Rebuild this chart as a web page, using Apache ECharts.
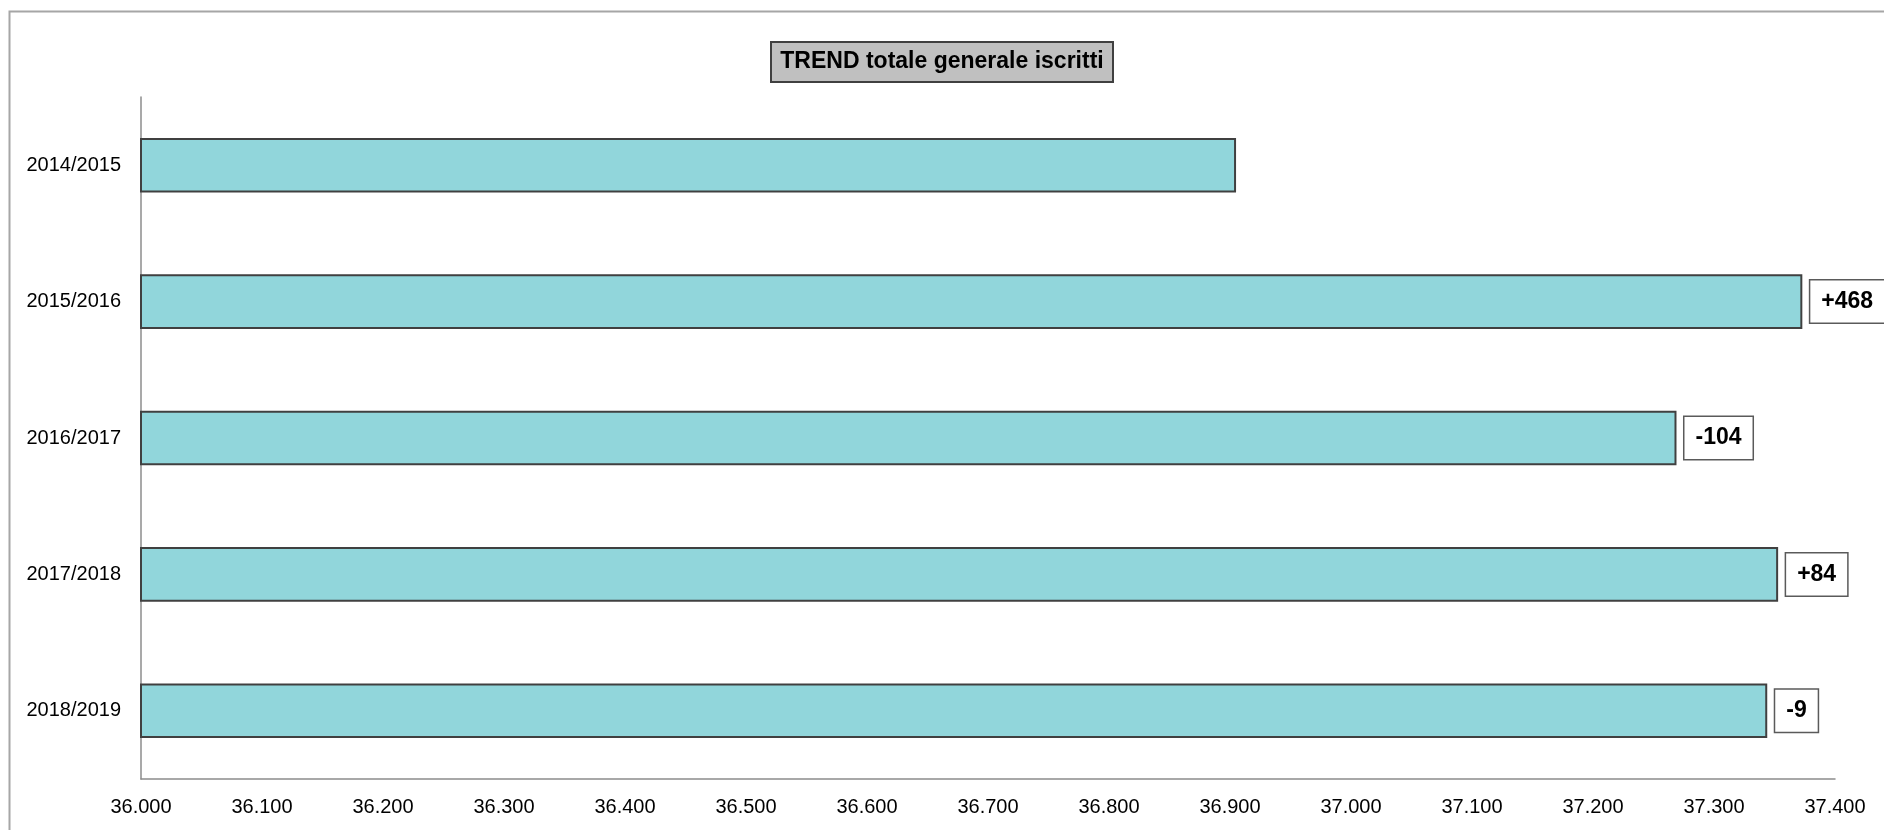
<!DOCTYPE html>
<html>
<head>
<meta charset="utf-8">
<script src="https://cdn.jsdelivr.net/npm/echarts@6/dist/echarts.min.js"></script>
<style>
html, body { margin: 0; padding: 0; background: #fff; }
#chart { width: 1884px; height: 830px; }
</style>
</head>
<body>
<div id="chart"></div>
<script>
const years = ['2014/2015', '2015/2016', '2016/2017', '2017/2018', '2018/2019']
const iscritti = [36905, 37373, 37269, 37353, 37344]
// variazione sull'anno precedente, come scritta nel grafico
const deltaLabels = ['', '+468', '-104', '+84', '-9']

const FONT = "'Liberation Sans', Arial, sans-serif"

const fmt = v => {
    // separatore migliaia italiano: 36000 -> 36.000
    return String(v).replace(/\B(?=(\d{3})+(?!\d))/g, '.')
}

let Mycharts = echarts.init(document.getElementById('chart'))
let option = {
    animation: false,
    textStyle: { fontFamily: FONT },
    title: {
        text: 'TREND totale generale iscritti',
        left: 'center',
        top: 42,
        backgroundColor: '#c0c0c0',
        borderColor: '#404040',
        borderWidth: 2,
        padding: [7, 10],
        textStyle: {
            fontFamily: FONT,
            fontSize: 23,
            fontWeight: 'bold',
            color: '#000',
            lineHeight: 26
        }
    },
    graphic: [{
        // cornice esterna dell'area grafico
        type: 'rect',
        silent: true,
        z: -10,
        shape: { x: 9.5, y: 11.5, width: 2000, height: 1000 },
        style: { fill: 'none', stroke: '#a6a6a6', lineWidth: 2 }
    }],
    grid: {
        left: 141,
        top: 97,
        right: 49,
        bottom: 51
    },
    xAxis: {
        type: 'value',
        min: 36000,
        max: 37400,
        interval: 100,
        axisLine: {
            show: true,
            lineStyle: { color: '#8c8c8c', width: 1.5 }
        },
        axisTick: { show: false },
        splitLine: { show: false },
        axisLabel: {
            margin: 18,
            fontSize: 20,
            color: '#000',
            fontFamily: FONT,
            formatter: fmt
        }
    },
    yAxis: {
        type: 'category',
        inverse: true,
        data: years,
        axisLine: {
            show: true,
            lineStyle: { color: '#8c8c8c', width: 1.5 }
        },
        axisTick: { show: false },
        axisLabel: {
            margin: 20,
            fontSize: 20,
            color: '#000',
            fontFamily: FONT
        }
    },
    series: [{
        name: 'iscritti',
        type: 'bar',
        barWidth: '40%',
        data: iscritti.map((v, i) => ({
            value: v,
            label: { show: deltaLabels[i] !== '' }
        })),
        itemStyle: {
            color: '#91d6db',
            borderColor: '#404040',
            borderWidth: 2
        },
        label: {
            show: true,
            position: 'right',
            distance: 8,
            formatter: p => deltaLabels[p.dataIndex],
            fontFamily: FONT,
            fontSize: 23,
            fontWeight: 'bold',
            color: '#000',
            lineHeight: 26,
            backgroundColor: '#fff',
            borderColor: '#5a5a5a',
            borderWidth: 1.5,
            padding: [8, 11]
        }
    }]
}
Mycharts.setOption(option)
</script>
</body>
</html>
